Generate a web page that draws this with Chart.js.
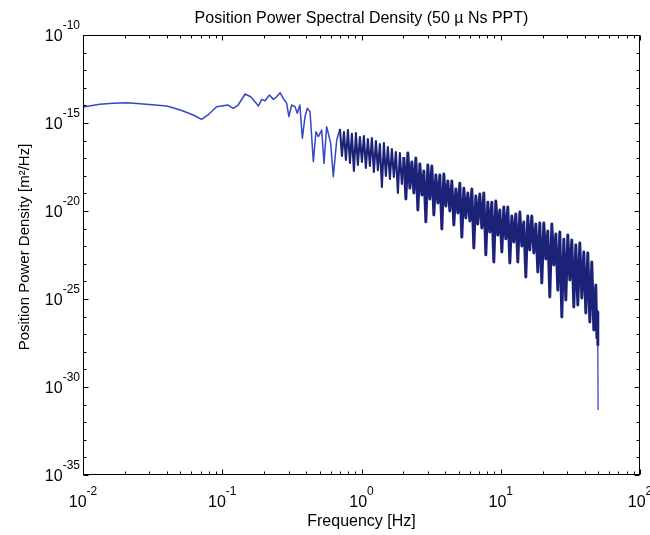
<!DOCTYPE html>
<html>
<head>
<meta charset="utf-8">
<script src="https://cdn.jsdelivr.net/npm/chart.js@4.4.1/dist/chart.umd.min.js"></script>
<style>
  html, body { margin: 0; padding: 0; background: #fff; }
  canvas { display: block; }
</style>
</head>
<body>
<canvas id="chart-psd" width="650" height="535"></canvas>
<script>
// texts
const chartTitle = 'Position Power Spectral Density (50 \u00b5 Ns PPT)';
const xTitle = 'Frequency [Hz]';
const yTitle = 'Position Power Density [m\u00b2/Hz]';

// decade exponents shown as 10^n labels
const xTickExps = ['-2', '-1', '0', '1', '2'];
const yTickExps = ['-10', '-15', '-20', '-25', '-30', '-35'];

// smooth low frequency part of the spectrum
const lowFreqHz = [0.010, 0.0132, 0.0165, 0.0206, 0.0271, 0.040, 0.050, 0.062, 0.071, 0.079,
    0.091, 0.110, 0.120, 0.130, 0.146, 0.160, 0.172, 0.182, 0.192, 0.203,
    0.218, 0.233, 0.246, 0.260, 0.274, 0.290, 0.301, 0.315, 0.333, 0.346,
    0.361, 0.376, 0.393, 0.408, 0.427, 0.451, 0.471, 0.490, 0.518, 0.538,
    0.562, 0.601, 0.627, 0.664];
const lowPsd = [8.1e-15, 1.15e-14, 1.32e-14, 1.42e-14, 1.20e-14, 9.2e-15, 5.5e-15, 2.85e-15, 1.62e-15, 2.85e-15,
    8.4e-15, 1.05e-14, 6.8e-15, 1.05e-14, 4.45e-14, 3.1e-14, 1.62e-14, 9.2e-15, 2.2e-14, 1.85e-14,
    3.9e-14, 2.2e-14, 3.1e-14, 5.3e-14, 2.5e-14, 1.32e-14, 2.3e-15, 1.05e-14, 8.4e-15, 3.55e-15,
    1.05e-14, 1.35e-16, 2.3e-15, 6.8e-15, 4.4e-15, 6.3e-18, 3.2e-16, 1.67e-16, 4.0e-16, 5.1e-18,
    6.2e-16, 7.0e-17, 8.9e-19, 1.08e-16];

// dense noisy band above 0.7 Hz: alternating peaks / dips of the trace
const bandFreqHz = [0.700, 0.724, 0.748, 0.773, 0.799, 0.826, 0.853, 0.882, 0.912, 0.942,
    0.974, 1.007, 1.040, 1.075, 1.111, 1.149, 1.187, 1.227, 1.269, 1.311,
    1.355, 1.401, 1.448, 1.496, 1.547, 1.599, 1.652, 1.708, 1.765, 1.825,
    1.886, 1.949, 2.015, 2.083, 2.153, 2.225, 2.300, 2.377, 2.457, 2.540,
    2.625, 2.713, 2.804, 2.899, 2.996, 3.097, 3.201, 3.308, 3.419, 3.534,
    3.653, 3.776, 3.903, 4.034, 4.169, 4.309, 4.454, 4.604, 4.759, 4.919,
    5.084, 5.255, 5.431, 5.614, 5.803, 5.998, 6.199, 6.407, 6.623, 6.845,
    7.075, 7.313, 7.559, 7.813, 8.075, 8.347, 8.627, 8.917, 9.217, 9.527,
    9.847, 10.18, 10.52, 10.87, 11.24, 11.62, 12.01, 12.41, 12.83, 13.26,
    13.71, 14.17, 14.64, 15.14, 15.64, 16.17, 16.71, 17.28, 17.86, 18.46,
    19.08, 19.72, 20.38, 21.07, 21.78, 22.51, 23.27, 24.05, 24.86, 25.69,
    26.56, 27.45, 28.37, 29.33, 30.31, 31.33, 32.38, 33.47, 34.60, 35.76,
    36.96, 38.20, 39.49, 40.82, 42.19, 43.61, 45.07, 46.59, 48.16, 49.0,
    49.5, 49.8, 50.0];
const bandPsd = [4.6e-16, 1.33e-17, 3.1e-16, 7.9e-18, 4.0e-16, 5.3e-18, 2.4e-16, 1.88e-18, 2.7e-16, 4.1e-18,
    1.6e-16, 6.1e-18, 1.82e-16, 2.8e-18, 1.23e-16, 3.6e-18, 1.41e-16, 1.64e-18, 9.5e-17, 2.1e-18,
    6.4e-17, 2.3e-19, 7.3e-17, 9.7e-19, 4.3e-17, 6.6e-19, 3.3e-17, 8.6e-19, 2.25e-17, 1.05e-19,
    1.97e-17, 3.4e-19, 1.17e-17, 4.8e-20, 1.97e-17, 2.0e-19, 6.1e-18, 1.05e-19, 1.03e-17, 1.14e-20,
    4.7e-18, 8.1e-20, 1.87e-18, 2.4e-21, 4.1e-18, 4.8e-20, 3.6e-18, 5.9e-21, 1.1e-18, 2.85e-20,
    1.11e-18, 9.5e-22, 1.27e-18, 1.92e-20, 5.1e-19, 1.0e-20, 5.1e-19, 1.6e-21, 1.77e-19, 7.7e-21,
    3.85e-19, 3.3e-22, 2.0e-19, 4.0e-21, 1.05e-19, 2.7e-21, 1.77e-19, 7.9e-23, 7.1e-20, 1.82e-21,
    9.2e-20, 1.08e-21, 1.06e-19, 3.2e-23, 3.2e-20, 6.4e-22, 3.2e-20, 1.26e-23, 3.7e-20, 4.3e-22,
    1.13e-20, 4.7e-23, 1.69e-20, 2.6e-22, 1.69e-20, 1.11e-23, 5.2e-21, 1.73e-22, 6.8e-21, 1.26e-23,
    8.7e-21, 1.03e-22, 2.4e-21, 1.78e-24, 5.2e-21, 6.1e-23, 5.2e-21, 4.1e-23, 1.85e-21, 3.4e-24,
    2.1e-21, 8.1e-25, 2.1e-21, 1.88e-23, 7.3e-22, 1.3e-25, 1.82e-21, 8.6e-24, 4.9e-22, 3.2e-25,
    6.4e-22, 9.5e-27, 2.5e-22, 8.8e-26, 4.3e-22, 1.2e-24, 2.25e-22, 3.5e-26, 1.17e-22, 4.6e-26,
    1.52e-22, 1.14e-25, 4.7e-23, 1.6e-26, 4.2e-23, 4.9e-27, 1.26e-23, 1.73e-27, 6.2e-25, 6.1e-28,
    1.82e-26, 2.4e-28, 4.9e-32];

const FONT = "'Liberation Sans', Arial, sans-serif";

const freqHz = lowFreqHz.concat(bandFreqHz);
const psd = lowPsd.concat(bandPsd);
const points = freqHz.map((f, i) => ({ x: f, y: psd[i] }));

// draws "10" with a raised exponent
function drawPow(ctx, x, y, exp, align) {
    ctx.font = '16px ' + FONT;
    const wb = ctx.measureText('10').width;
    ctx.font = '12px ' + FONT;
    const we = ctx.measureText(exp).width;
    let start = align === 'right' ? x - wb - we : x - (wb + we) / 2;
    ctx.textAlign = 'left';
    ctx.textBaseline = 'alphabetic';
    ctx.font = '16px ' + FONT;
    ctx.fillText('10', start, y);
    ctx.font = '12px ' + FONT;
    ctx.fillText(exp, start + wb, y - 12);
}

// MATLAB style box, inner ticks and labels
const matlabAxes = {
    id: 'matlabAxes',
    afterDraw(chart) {
        const ctx = chart.ctx;
        const a = chart.chartArea;
        const xs = chart.scales.x;
        const ys = chart.scales.y;
        const L = Math.round(a.left) + 0.5, R = Math.round(a.right) - 0.5;
        const T = Math.round(a.top) + 0.5, B = Math.round(a.bottom) - 0.5;

        ctx.save();
        ctx.strokeStyle = '#000';
        ctx.lineWidth = 1;
        ctx.strokeRect(L, T, R - L, B - T);

        ctx.beginPath();
        // x ticks (decades + minors)
        for (let e = -2; e <= 2; e++) {
            for (let m = 1; m <= 9; m++) {
                if (e === 2 && m > 1) break;
                const v = m * Math.pow(10, e);
                const px = Math.round(xs.getPixelForValue(v)) + 0.5;
                const len = m === 1 ? 5 : 3;
                ctx.moveTo(px, B); ctx.lineTo(px, B - len);
                ctx.moveTo(px, T); ctx.lineTo(px, T + len);
            }
        }
        // y ticks (every decade)
        for (let e = -35; e <= -10; e++) {
            const py = Math.round(ys.getPixelForValue(Math.pow(10, e))) + 0.5;
            const len = e % 5 === 0 ? 5 : 3;
            ctx.moveTo(L, py); ctx.lineTo(L + len, py);
            ctx.moveTo(R, py); ctx.lineTo(R - len, py);
        }
        ctx.stroke();

        ctx.fillStyle = '#000';
        xTickExps.forEach(s => {
            const px = xs.getPixelForValue(Math.pow(10, Number(s)));
            drawPow(ctx, px, a.bottom + 32, s, 'center');
        });
        yTickExps.forEach(s => {
            const py = ys.getPixelForValue(Math.pow(10, Number(s)));
            drawPow(ctx, a.left - 3, py + 6, s, 'right');
        });

        const cx = (a.left + a.right) / 2;
        ctx.textAlign = 'center';
        ctx.textBaseline = 'alphabetic';
        ctx.font = '16px ' + FONT;
        ctx.fillText(chartTitle, cx, 23);
        ctx.fillText(xTitle, cx, 526);

        ctx.translate(25, 247);
        ctx.rotate(-Math.PI / 2);
        ctx.textBaseline = 'middle';
        ctx.font = '15px ' + FONT;
        ctx.fillText(yTitle, 0, 0);
        ctx.restore();
    }
};

const lightBlue = '#3447c6';
const darkBlue = '#1d2279';

function segColor(c) {
    if (c.p1.parsed.x >= 50) return lightBlue;
    return c.p0.parsed.x >= 0.7 ? darkBlue : lightBlue;
}

function segWidth(c) {
    if (c.p1.parsed.x >= 50) return 1.3;
    if (c.p0.parsed.x >= 2) return 2.9;
    return c.p0.parsed.x >= 0.7 ? 2.1 : 1.5;
}

new Chart(document.getElementById('chart-psd').getContext('2d'), {
    type: 'scatter',
    data: {
        datasets: [{
            data: points,
            showLine: true,
            borderColor: lightBlue,
            borderWidth: 1.5,
            borderJoinStyle: 'round',
            pointRadius: 0,
            fill: false,
            segment: {
                borderColor: segColor,
                borderWidth: segWidth
            }
        }]
    },
    options: {
        responsive: false,
        animation: false,
        layout: { padding: { left: 83, right: 10, top: 35, bottom: 60 } },
        plugins: {
            legend: { display: false },
            tooltip: { enabled: false },
            title: { display: false }
        },
        scales: {
            x: { type: 'logarithmic', min: 0.01, max: 100, display: false },
            y: { type: 'logarithmic', min: 1e-35, max: 1e-10, display: false }
        }
    },
    plugins: [matlabAxes]
});
</script>
</body>
</html>
